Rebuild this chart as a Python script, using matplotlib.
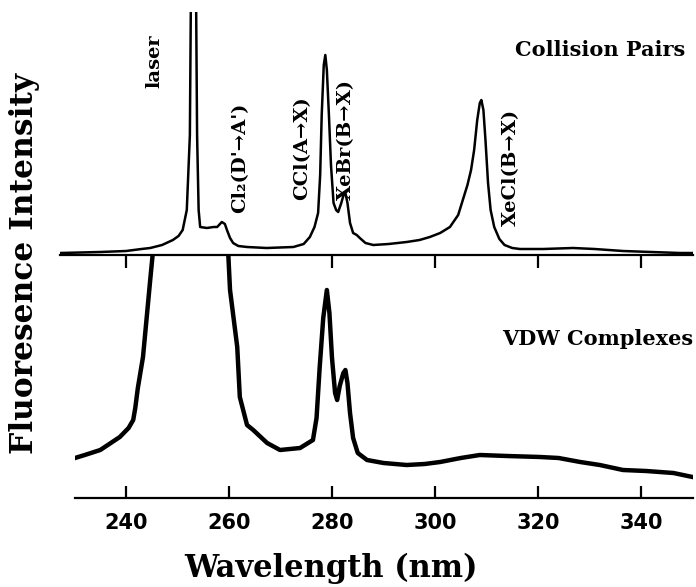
import matplotlib
matplotlib.use("Agg")
import matplotlib.pyplot as plt

# upper trace: collision pairs (nm, arbitrary intensity)
wl_pairs = [227.2, 235, 240, 243, 244.7, 247, 249.1, 250.2, 251.0, 251.8, 252.4,
            252.6, 253.1, 253.6, 253.8, 254.1, 254.4, 255.7, 257.0, 257.7, 258.6,
            259.2, 259.6, 260.2, 260.8, 261.8, 263.5, 267.3, 272.5, 274.5, 275.7,
            276.6, 277.3, 277.7, 278.0, 278.4, 278.7, 279.0, 279.4, 279.8, 280.3,
            280.8, 281.2, 281.8, 282.3, 282.6, 283.0, 283.5, 284.1, 284.8, 285.4,
            286.5, 288, 291, 294.5, 297, 299, 301, 302.9, 304.5, 305.4, 306.3,
            307.0, 307.6, 308.2, 308.7, 309.0, 309.4, 309.8, 310.3, 310.8, 311.5,
            312.5, 313.5, 315, 316.5, 321, 326.8, 331, 336.5, 342, 347.6, 350]
int_pairs = [2, 3, 4, 6, 7, 10, 15, 19, 25, 45, 120,
             260, 420, 260, 120, 45, 28, 27, 28, 28, 33,
             31, 25, 17, 12, 9, 8, 7, 8, 11, 18,
             28, 42, 80, 140, 190, 200, 185, 140, 90, 52,
             45, 43, 52, 61, 62, 52, 32, 22, 20, 17,
             12, 10, 11, 13, 15, 18, 22, 28, 40, 55, 70,
             85, 105, 135, 152, 155, 145, 115, 72, 45, 28,
             16, 10, 7, 6, 6, 7, 6, 4, 3, 2, 2]

# lower trace: van der Waals complexes
wl_vdw = [230.1, 232, 235, 238.8, 240.5, 241.4, 241.8, 242.3, 243.3, 244.1,
          244.7, 245.3, 246.5, 250, 253, 256, 259, 259.8, 260.2, 261.6, 262.1,
          263.5, 264.7, 267.4, 269.9, 273.8, 276.3, 277.0, 277.6, 278.3, 279.0,
          279.5, 280.0, 280.6, 281.0, 281.5, 282.2, 282.6, 283.0, 283.5, 284.1,
          285.0, 286.8, 290, 294.5, 298, 301, 305, 308.7, 314, 320.4, 324,
          328.2, 332, 336.5, 341, 346.3, 350]
int_vdw = [40, 43, 48, 61, 70, 78, 90, 110, 141, 185,
           218, 250, 300, 340, 345, 335, 300, 250, 208, 151, 101,
           73, 68, 55, 48, 50, 58, 80, 130, 180, 208,
           185, 140, 105, 98, 112, 125, 128, 115, 85, 60,
           45, 38, 35, 33, 34, 36, 40, 43, 42, 41, 40,
           36, 33, 28, 27, 25, 21]

ticks = [240, 260, 280, 300, 320, 340]

# peak labels: text, x (nm), bottom of label (intensity units of upper panel)
labels = ["laser", "Cl\u2082(D'\u2192A')", "CCl(A\u2192X)", "XeBr(B\u2192X)", "XeCl(B\u2192X)"]
label_x = [245.6, 262.1, 274.2, 282.7, 314.8]
label_y = [167, 42, 55, 55, 29]

W, H = 696, 587
fig = plt.figure(figsize=(W / 100, H / 100), dpi=100)

ax1 = fig.add_axes([60 / W, 1 - 255 / H, (693 - 60) / W, (255 - 12) / H])
ax2 = fig.add_axes([74.5 / W, 1 - 498 / H, (692.5 - 74.5) / W, 242 / H])

ax1.plot(wl_pairs, int_pairs, color="black", lw=1.8)
ax1.set_xlim(227.18, 350.1)
ax1.set_ylim(0, 243)

ax2.plot(wl_vdw, int_vdw, color="black", lw=3.2)
ax2.set_xlim(230, 350)
ax2.set_ylim(0, 242)

for ax in (ax1, ax2):
    for s in ("top", "right", "left"):
        ax.spines[s].set_visible(False)
    ax.spines["bottom"].set_linewidth(1.6)
    ax.set_yticks([])
    ax.set_xticks(ticks)
    ax.patch.set_alpha(0)

ax1.tick_params(axis="x", direction="out", length=9, width=1.6, labelbottom=False)
ax2.tick_params(axis="x", direction="in", length=9, width=1.6, pad=11)
ax2.set_xticklabels([str(t) for t in ticks], fontsize=15, fontweight="bold",
                    family="DejaVu Sans")

for txt, x, y in zip(labels, label_x, label_y):
    ax1.text(x, y, txt, rotation=90, ha="center", va="bottom", fontsize=14,
             fontweight="bold", family=["DejaVu Serif", "DejaVu Sans"])

fig.text(685 / W, 1 - 50 / H, "Collision Pairs", ha="right", va="center",
         fontsize=15, fontweight="bold", family="DejaVu Serif")
fig.text(693 / W, 1 - 339 / H, "VDW Complexes", ha="right", va="center",
         fontsize=15, fontweight="bold", family="DejaVu Serif")

fig.text(25 / W, 1 - 263 / H, "Fluoresence Intensity", rotation=90, ha="center",
         va="center", fontsize=22.5, fontweight="bold", family="DejaVu Serif")
fig.text(331 / W, 1 - 577 / H, "Wavelength (nm)", ha="center", va="baseline",
         fontsize=22, fontweight="bold", family="DejaVu Serif")

fig.savefig("out.png", dpi=100)
